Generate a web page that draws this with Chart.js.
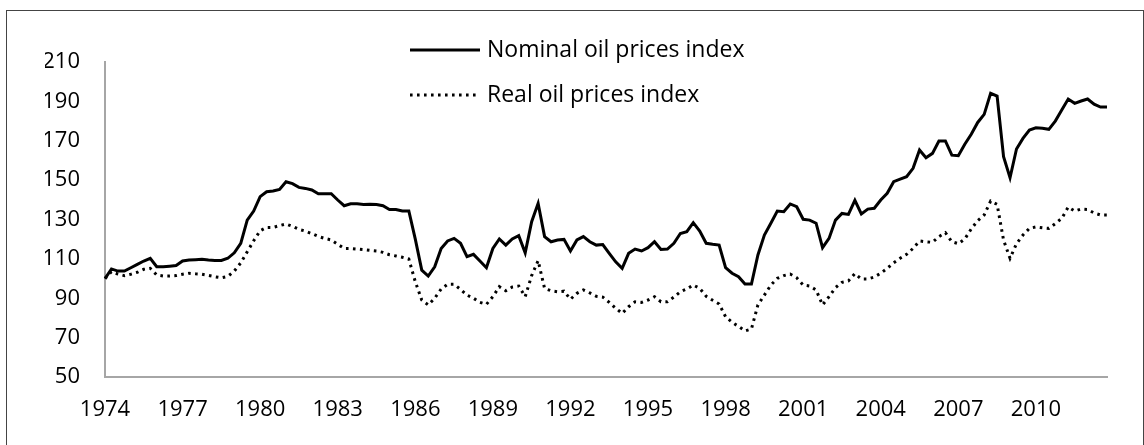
<!DOCTYPE html>
<html>
<head>
<meta charset="utf-8">
<script src="https://cdn.jsdelivr.net/npm/chart.js@4.4.1/dist/chart.umd.min.js"></script>
<style>
  html, body { margin: 0; padding: 0; background: #fff; }
  #frame { position: absolute; left: 6px; top: 10px; width: 1138px; height: 445px; border: 1px solid #444; box-sizing: border-box; }
  #wrap { position: absolute; left: 0; top: 0; width: 1144px; height: 445px; }
</style>
</head>
<body>
<div id="frame"></div>
<div id="wrap"><canvas id="oilChart"></canvas></div>
<script>
// quarterly index, 1974Q1 = 100
const startYear = 1974;
const endYear = 2012;
const tickYears = ['1974', '1977', '1980', '1983', '1986', '1989', '1992', '1995', '1998', '2001', '2004', '2007', '2010'];

const nominalIndex = [
  100, 104.9, 103.8, 103.8, 105.5, 107.2, 108.9, 110.3, 106, 106, 106.3, 106.6,
  108.9, 109.4, 109.6, 109.8, 109.4, 109.2, 109.2, 110.3, 113.1, 117.9, 129.7, 134.3,
  141.6, 144.1, 144.5, 145.3, 149.2, 148.2, 146.3, 145.8, 145, 143.1, 143.1, 143.1,
  139.9, 137, 138, 138, 137.6, 137.8, 137.6, 137, 135.1, 135.1, 134.3, 134.3,
  120, 104.3, 101.3, 106, 115.3, 119.1, 120.4, 117.9, 111.1, 112.3, 108.9, 105.5,
  115.3, 120.1, 117, 120.1, 121.8, 113.1, 128.9, 138.2, 121.3, 118.7, 119.6, 119.9,
  114, 119.6, 121.3, 118.7, 117, 117.3, 112.8, 108.5, 105.2, 112.8, 115, 114,
  115.7, 118.7, 114.8, 115, 117.9, 122.9, 123.8, 128.4, 124.1, 117.9, 117.4, 117,
  105.5, 102.7, 100.9, 97.2, 97.2, 112, 122.1, 128.1, 134.3, 134, 137.9, 136.5,
  130.1, 129.7, 128.1, 115.7, 120.4, 129.7, 133.1, 132.6, 139.7, 132.8, 135.3, 135.7,
  139.9, 143.3, 149.2, 150.5, 151.7, 156, 165.3, 161.4, 163.6, 169.9, 169.9, 162.7,
  162.4, 168.2, 173.3, 179.3, 183.4, 194.1, 192.7, 161.9, 151.2, 165.8, 171.2, 175.4,
  176.6, 176.3, 175.8, 180, 185.6, 191.2, 189, 190.2, 191.2, 188.6, 187.1, 187.1
];

const realIndex = [
  100, 103.5, 102.3, 101.5, 102.2, 103.2, 104.7, 105.2, 101.8, 101.3, 101.3, 101.5,
  102.2, 102.7, 102.4, 102.2, 101.6, 100.9, 100.4, 101.1, 103.8, 108, 113.6, 119.2,
  124.3, 126, 126, 126.9, 127.7, 126.5, 125, 124.1, 122.8, 121.4, 120.4, 119.6,
  117.4, 115.3, 115.3, 115, 114.7, 114.3, 114, 113.3, 112.1, 111.5, 110.8, 109.9,
  98.4, 89.1, 86.6, 90, 94.7, 97.1, 97.1, 94.5, 91.6, 90, 87.9, 86.9,
  90.8, 95.9, 93.8, 95.7, 96.2, 90.8, 101.5, 109.1, 95, 93.8, 93.3, 93.6,
  89.5, 92.5, 94.2, 92.7, 91, 90.6, 87.9, 84.9, 82.3, 85.7, 88.2, 87.9,
  89.1, 90.8, 88.2, 88.2, 90.6, 93.3, 94.7, 96.7, 95, 91, 89, 87.1,
  80.6, 77.8, 75.7, 73.4, 74.4, 86.6, 91.6, 96.7, 100.1, 101.5, 102.3, 100.4,
  96.7, 96.2, 94.2, 86.6, 90.8, 95.4, 98.1, 98.8, 102.5, 99.8, 99.8, 100.8,
  102.7, 105.2, 108, 110.3, 112.3, 115.3, 119.1, 118.7, 118.4, 121.3, 123.3, 118.7,
  117.7, 120.1, 125.2, 129.4, 132.3, 139.4, 137.7, 119.5, 110.3, 117.7, 122.1, 125.5,
  126.2, 125.8, 125.5, 127.9, 130.6, 136.3, 134.3, 135.3, 135.1, 133.3, 132.3, 132.3
];

const quarters = [];
for (let y = startYear; y <= endYear; y++) {
  for (let q = 1; q <= 4; q++) quarters.push(y + 'Q' + q);
}

const FONT = '"Open Sans", Lato, sans-serif';

// two-row legend like the Excel original
const legendRows = {
  id: 'legendRows',
  afterDraw(chart) {
    const ctx = chart.ctx;
    chart.data.datasets.forEach((ds, i) => {
      const y = 50 + i * 45;
      ctx.save();
      ctx.strokeStyle = ds.borderColor;
      ctx.lineWidth = ds.borderWidth;
      ctx.setLineDash(ds.borderDash || []);
      ctx.beginPath();
      ctx.moveTo(410, y);
      ctx.lineTo(480, y);
      ctx.stroke();
      ctx.setLineDash([]);
      ctx.fillStyle = '#000';
      ctx.font = '23px ' + FONT;
      ctx.textBaseline = 'middle';
      ctx.fillText(ds.label, 487, y);
      ctx.restore();
    });
  }
};

new Chart(document.getElementById('oilChart'), {
  type: 'line',
  data: {
    labels: quarters,
    datasets: [{
      label: 'Nominal oil prices index',
      data: nominalIndex,
      borderColor: '#000',
      borderWidth: 3,
      pointRadius: 0,
      tension: 0
    }, {
      label: 'Real oil prices index',
      data: realIndex,
      borderColor: '#000',
      borderWidth: 3,
      borderDash: [2.6, 4.4],
      pointRadius: 0,
      tension: 0
    }]
  },
  options: {
    responsive: true,
    maintainAspectRatio: false,
    animation: false,
    devicePixelRatio: 1,
    layout: { padding: { left: 45, right: 37, top: 62, bottom: 18 } },
    plugins: {
      legend: { display: false },
      tooltip: { enabled: false }
    },
    scales: {
      x: {
        offset: false,
        grid: { display: false, drawTicks: false },
        border: { display: true, color: '#a6a6a6', width: 2 },
        ticks: {
          autoSkip: false,
          maxRotation: 0,
          padding: 20,
          color: '#000',
          font: { family: FONT, size: 22 },
          callback: (val, idx) => idx % 12 === 0 ? tickYears[idx / 12] : ''
        },
        afterFit: (scale) => { scale.height = 50; }
      },
      y: {
        min: 50,
        max: 210,
        grid: { display: false, drawTicks: false },
        border: { display: true, color: '#a6a6a6', width: 2 },
        ticks: {
          stepSize: 20,
          padding: 25,
          color: '#000',
          font: { family: FONT, size: 22 }
        },
        afterFit: (scale) => { scale.width = 60; }
      }
    }
  },
  plugins: [legendRows]
});
</script>
</body>
</html>
